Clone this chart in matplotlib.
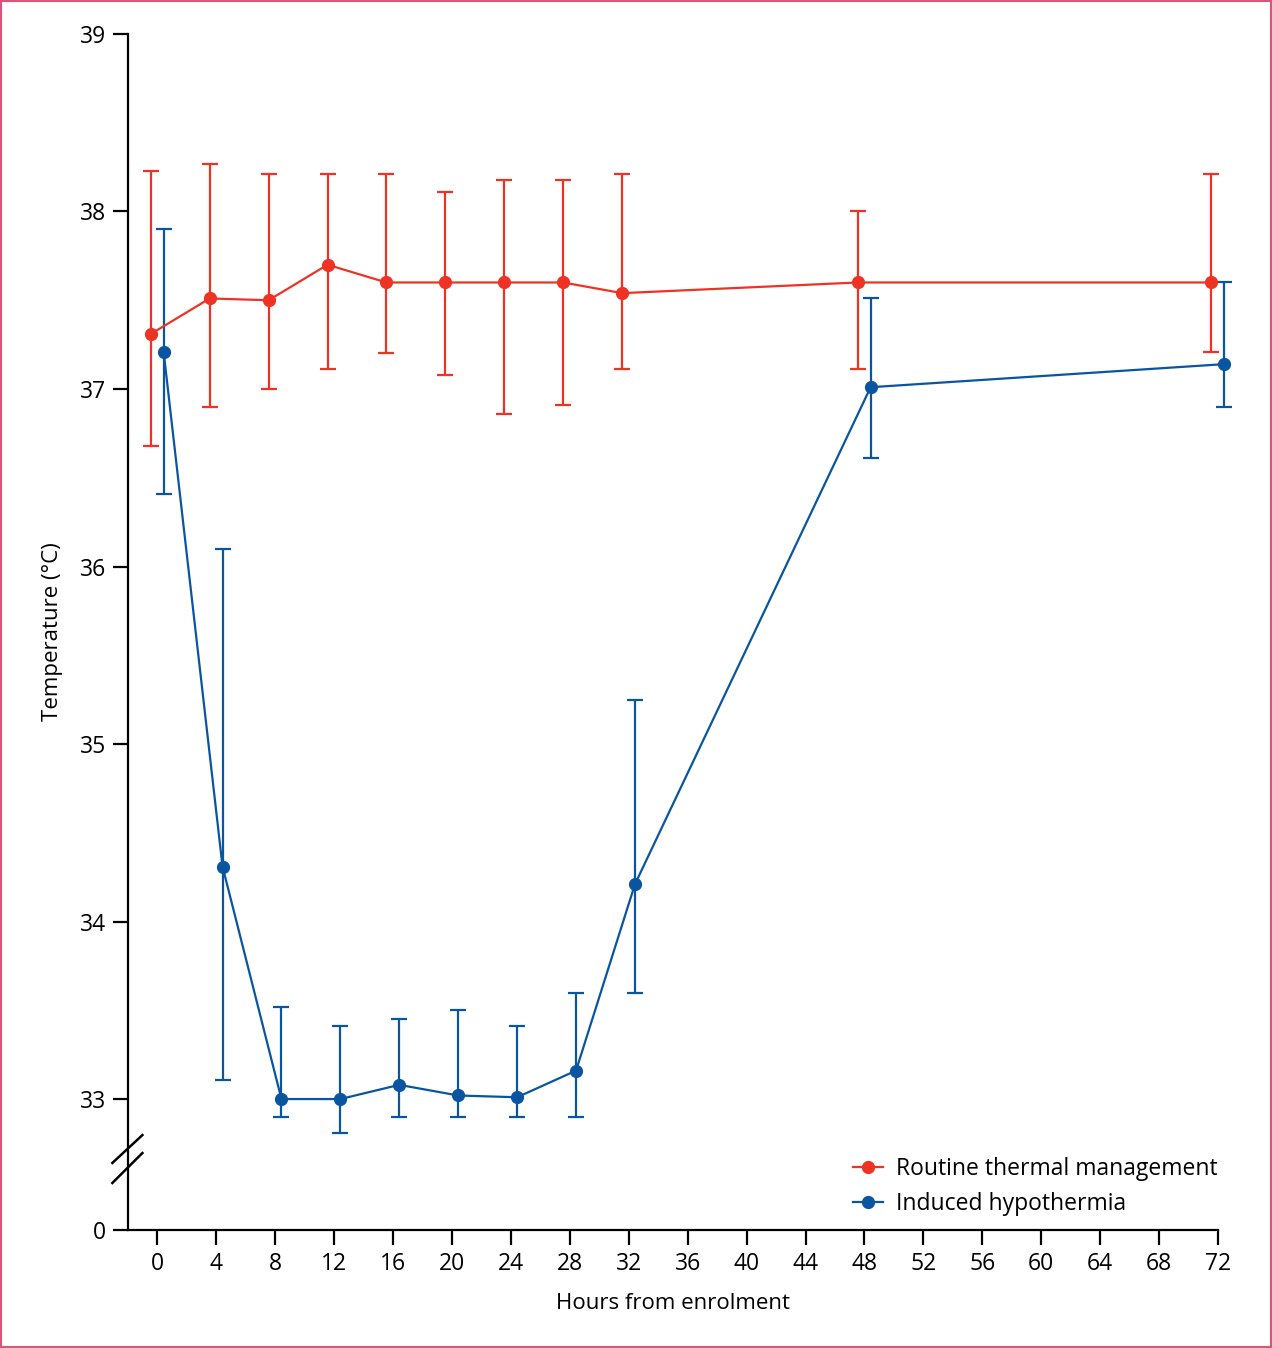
import numpy as np
import matplotlib.pyplot as plt
from matplotlib.patches import Rectangle
from matplotlib.lines import Line2D

plt.rcParams['font.family'] = ['Open Sans', 'DejaVu Sans']

# Hours from enrolment
hours = [0, 4, 8, 12, 16, 20, 24, 28, 32, 48, 72]

# Routine thermal management: mean, upper and lower whisker
routine = [37.31, 37.51, 37.50, 37.70, 37.60, 37.60, 37.60, 37.60, 37.54, 37.60, 37.60]
routine_hi = [38.23, 38.27, 38.21, 38.21, 38.21, 38.11, 38.18, 38.18, 38.21, 38.00, 38.21]
routine_lo = [36.68, 36.90, 37.00, 37.11, 37.20, 37.08, 36.86, 36.91, 37.11, 37.11, 37.21]

# Induced hypothermia: mean, upper and lower whisker
hypo = [37.21, 34.31, 33.00, 33.00, 33.08, 33.02, 33.01, 33.16, 34.21, 37.01, 37.14]
hypo_hi = [37.90, 36.10, 33.52, 33.41, 33.45, 33.50, 33.41, 33.60, 35.25, 37.51, 37.60]
hypo_lo = [36.41, 33.11, 32.90, 32.81, 32.90, 32.90, 32.90, 32.90, 33.60, 36.61, 36.90]

red = '#ee3325'
blue = '#0a55a0'

# axis break: the bottom of the plot stands for 0
y_zero = 32.262

fig = plt.figure(figsize=(12.72, 13.48), dpi=100)
ax = fig.add_axes([0.1006, 0.0875, 0.8569, 0.8873])

def draw(x, y, hi, lo, color, shift):
    x = np.array(x) + shift
    y = np.array(y)
    yerr = [y - np.array(lo), np.array(hi) - y]
    ax.errorbar(x, y, yerr=yerr, fmt='o-', color=color, ecolor=color, lw=1.6,
                elinewidth=1.6, capsize=5.5, capthick=1.6, markersize=8.5,
                clip_on=False)

draw(hours, routine, routine_hi, routine_lo, red, -0.45)
draw(hours, hypo, hypo_hi, hypo_lo, blue, 0.42)

ax.set_xlim(-2, 72)
ax.set_ylim(y_zero, 39)
ax.set_xticks(np.arange(0, 73, 4))
ax.set_yticks([y_zero, 33, 34, 35, 36, 37, 38, 39])
ax.set_yticklabels(['0', '33', '34', '35', '36', '37', '38', '39'])

for s in ['top', 'right']:
    ax.spines[s].set_visible(False)
for s in ['left', 'bottom']:
    ax.spines[s].set_linewidth(1.6)
ax.tick_params(direction='out', length=11, width=1.6, labelsize=16.5, pad=5)

# break marks on the y axis
ax.plot([-3.06, -1.02], [32.64, 32.797], color='black', lw=1.8, clip_on=False)
ax.plot([-3.06, -1.02], [32.527, 32.696], color='black', lw=1.8, clip_on=False)

ax.set_xlabel('Hours from enrolment', fontsize=16, labelpad=12)
ax.set_ylabel('Temperature (°C)', fontsize=16, labelpad=12)

handles = [Line2D([], [], color=red, marker='o', lw=1.6, markersize=8.5),
           Line2D([], [], color=blue, marker='o', lw=1.6, markersize=8.5)]
ax.legend(handles, ['Routine thermal management', 'Induced hypothermia'],
          loc='lower right', bbox_to_anchor=(1.0, 0.012), borderpad=0, borderaxespad=0,
          frameon=False, fontsize=16.5, handlelength=1.3, handletextpad=0.6,
          labelspacing=0.45)

fig.patches.append(Rectangle((0.0008, 0.0008), 0.9984, 0.9984, transform=fig.transFigure,
                             fill=False, ec='#d9567a', lw=1.5))

fig.savefig('out.png', dpi=100)
